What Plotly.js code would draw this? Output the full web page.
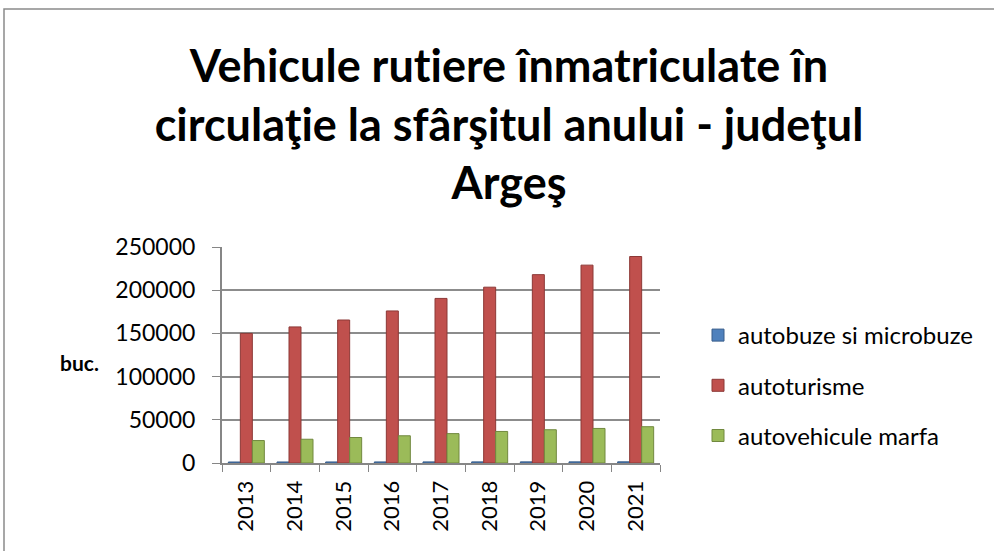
<!DOCTYPE html>
<html><head><meta charset="utf-8">
<script src="https://cdn.plot.ly/plotly-3.0.1.min.js"></script>
<style>body{margin:0;background:#fff}#c{width:994px;height:551px}text{font-variant-ligatures:none;font-feature-settings:"liga" 0}</style>
</head><body><div id="c"></div>
<script>
const years = ['2013','2014','2015','2016','2017','2018','2019','2020','2021'];
const autobuze = [1150, 1180, 1200, 1230, 1260, 1290, 1310, 1330, 1360];
const autoturisme = [150000, 157500, 165500, 176000, 190500, 203500, 218000, 229000, 239000];
const marfa = [26000, 27500, 29500, 31500, 34000, 36500, 38500, 40000, 42000];
const seriesNames = ['autobuze si microbuze', 'autoturisme', 'autovehicule marfa'];
const colors = ['#4F81BD', '#C0504D', '#9BBB59'];
const lineColors = ['#385D8A', '#8C3836', '#71893F'];

const L = 222, R = 660, T = 247, B = 463;
const W = 994, H = 551;
const pw = R - L, ph = B - T;
const px = x => (x - L) / pw, py = y => (B - y) / ph;

const vals = [autobuze, autoturisme, marfa];
const traces = vals.map((v, i) => ({
  type: 'bar', x: years, y: v, name: seriesNames[i],
  marker: {color: colors[i], line: {color: lineColors[i], width: 1}},
  legendgroup: 'g' + i
}));

const font = 'Lato, "Open Sans", sans-serif';
const layout = {
  width: W, height: H,
  margin: {l: L, r: W - R, t: T, b: H - B, autoexpand: false},
  paper_bgcolor: '#fff', plot_bgcolor: '#fff',
  font: {family: font, color: '#000', size: 23},
  title: {
    text: '<b>Vehicule rutiere înmatriculate în<br>circulaţie la sfârşitul anului - judeţul<br>Argeş</b>',
    font: {family: font, size: 45, color: '#000'},
    x: 509 / W, xanchor: 'center', xref: 'container',
    y: 1 - 82 / H, yanchor: 'top', yref: 'container'
  },
  barmode: 'group', bargap: 0.26, bargroupgap: 0,
  xaxis: {
    type: 'category', tickangle: -90, tickson: 'boundaries', ticks: 'outside', ticklen: 7,
    tickcolor: '#868686', linecolor: '#868686', linewidth: 2, showline: true,
    tickfont: {size: 22, family: font}, showgrid: false, ticklabelstandoff: 7, automargin: false
  },
  yaxis: {
    range: [0, 250000], dtick: 50000, tickformat: 'd', ticks: 'outside', ticklen: 8,
    tickcolor: '#868686', showline: true, linecolor: '#868686', linewidth: 2,
    gridcolor: '#8c8c8c', gridwidth: 2, tickfont: {size: 23, family: font}, zeroline: false,
    ticklabelstandoff: 12, automargin: false
  },
  legend: {
    x: px(698), y: py(313), xanchor: 'left', yanchor: 'top',
    font: {size: 24, family: font}, traceorder: 'grouped', tracegroupgap: 16,
    bgcolor: 'rgba(0,0,0,0)'
  },
  annotations: [{
    text: '<b>buc.</b>', xref: 'paper', yref: 'paper', x: px(79), y: py(362),
    xanchor: 'center', yanchor: 'middle', showarrow: false, font: {size: 21, family: font}
  }],
  shapes: [{
    type: 'rect', xref: 'paper', yref: 'paper',
    x0: px(4), x1: px(1010), y0: py(570), y1: py(9),
    line: {color: '#8a8a8a', width: 1.5}, layer: 'below'
  }]
};
Plotly.newPlot('c', traces, layout, {displayModeBar: false, staticPlot: true});
</script></body></html>
